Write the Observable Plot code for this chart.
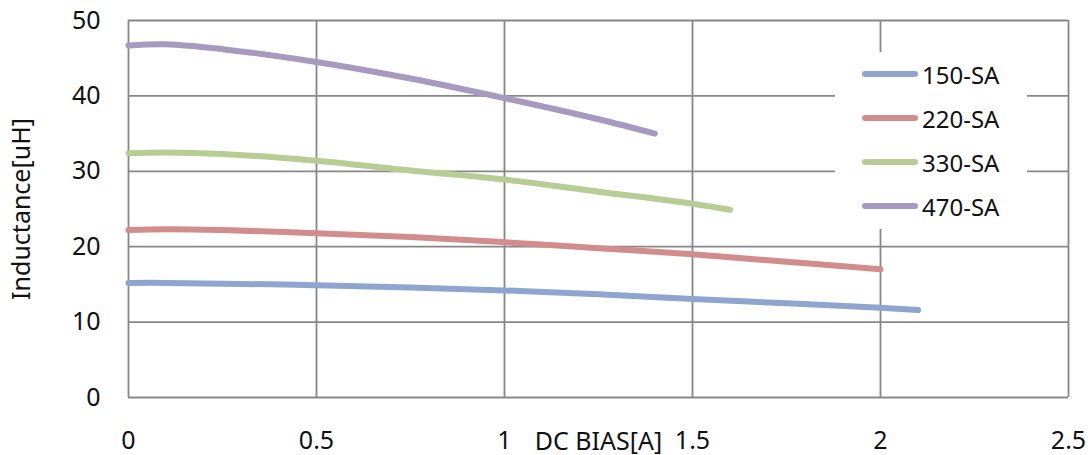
<!DOCTYPE html>
<html><head><meta charset="utf-8">
<script src="https://cdn.jsdelivr.net/npm/d3@7"></script>
<script src="https://cdn.jsdelivr.net/npm/@observablehq/plot@0.6"></script>
<style>
body{margin:0;background:#fff;}
#wrap{position:relative;width:1088px;height:455px;font-family:"Noto Sans",sans-serif;}
#legend{position:absolute;left:835px;top:52px;width:192px;height:177px;background:#fff;}
.row{position:absolute;left:27px;height:30px;display:flex;align-items:center;font-size:24px;color:#111;}
.row svg{margin-right:4px;}
</style></head><body>
<div id="wrap"><div id="chart"></div><div id="legend"></div></div>
<script>
const seriesNames = ["150-SA", "220-SA", "330-SA", "470-SA"];
const seriesColors = ["#8EA6CF", "#D38C8C", "#B7CD93", "#A799C0"];

const bias150 = [0, 0.1, 0.25, 0.5, 0.75, 1, 1.25, 1.5, 1.75, 2, 2.1];
const ind150  = [15.2, 15.2, 15.1, 14.9, 14.6, 14.2, 13.7, 13.05, 12.5, 11.9, 11.6];

const bias220 = [0, 0.1, 0.25, 0.5, 0.75, 1, 1.25, 1.5, 1.75, 2];
const ind220  = [22.2, 22.3, 22.2, 21.8, 21.3, 20.6, 19.8, 19.0, 18.0, 17.0];

const bias330 = [0, 0.1, 0.25, 0.5, 0.75, 1, 1.25, 1.5, 1.6];
const ind330  = [32.4, 32.5, 32.3, 31.4, 30.1, 28.9, 27.3, 25.7, 24.9];

const bias470 = [0, 0.1, 0.25, 0.5, 0.75, 1, 1.25, 1.4];
const ind470  = [46.7, 46.85, 46.2, 44.5, 42.3, 39.7, 36.9, 35.0];

const xTicks = [0, 0.5, 1, 1.5, 2, 2.5];
const xTickLabels = ["0", "0.5", "1", "1.5", "2", "2.5"];
const yTicks = [0, 10, 20, 30, 40, 50];

const biasList = [bias150, bias220, bias330, bias470];
const indList = [ind150, ind220, ind330, ind470];
const data = seriesNames.flatMap((name, i) =>
  biasList[i].map((b, j) => ({series: name, bias: b, ind: indList[i][j]})));

const chart = Plot.plot({
  width: 1088,
  height: 455,
  marginLeft: 128,
  marginRight: 20,
  marginTop: 20,
  marginBottom: 58,
  style: {fontFamily: "Noto Sans", fontSize: "25px", color: "#111", background: "#fff"},
  x: {domain: [0, 2.5], label: "DC BIAS[A]"},
  y: {domain: [0, 50], label: "Inductance[uH]"},
  color: {domain: seriesNames, range: seriesColors},
  marks: [
    Plot.ruleX(xTicks, {stroke: "#878787", strokeWidth: 1.8, strokeOpacity: 1}),
    Plot.ruleY(yTicks, {stroke: "#878787", strokeWidth: 1.8, strokeOpacity: 1}),
    Plot.axisX({ticks: xTicks, tickFormat: (d) => xTickLabels[xTicks.indexOf(d)], tickSize: 0, tickPadding: 34,
      label: "DC BIAS[A]", labelAnchor: "center", labelArrow: "none", labelOffset: 52}),
    Plot.axisY({ticks: yTicks, tickSize: 0, tickPadding: 28,
      label: "Inductance[uH]", labelAnchor: "center", labelArrow: "none", labelOffset: 116}),
    Plot.line(data, {x: "bias", y: "ind", z: "series", stroke: "series", strokeWidth: 6,
      curve: "catmull-rom", strokeLinecap: "round"})
  ]
});
document.getElementById("chart").appendChild(chart);

const legend = document.getElementById("legend");
seriesNames.forEach((name, i) => {
  const row = document.createElement("div");
  row.className = "row";
  row.style.top = (7 + i * 44) + "px";
  row.innerHTML = `<svg width="56" height="10"><line x1="3" y1="5" x2="53" y2="5" stroke="${seriesColors[i]}" stroke-width="6" stroke-linecap="round"/></svg><span>${name}</span>`;
  legend.appendChild(row);
});
</script>
</body></html>
